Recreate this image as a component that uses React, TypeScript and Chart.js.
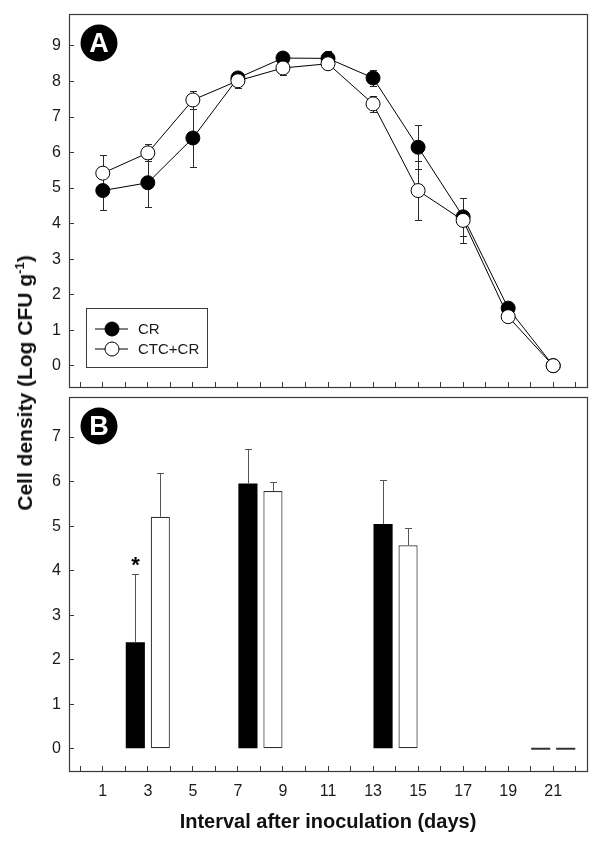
import React, { useEffect, useRef } from "react";
import { Chart, registerables } from "chart.js";

Chart.register(...registerables);

// ---------- data ----------
const seriesLabels = ["CR", "CTC+CR"];

// Panel A (line chart)
const daysA = [1, 3, 5, 7, 9, 11, 13, 15, 17, 19, 21];
const crA = [4.93, 5.15, 6.41, 8.1, 8.66, 8.65, 8.1, 6.15, 4.19, 1.62, 0];
const crAErr = [0.55, 0.68, 0.82, 0.18, 0.1, 0.22, 0.22, 0.62, 0.53, 0.08, 0];
const ctcA = [5.42, 5.99, 7.48, 8.02, 8.38, 8.5, 7.37, 4.93, 4.09, 1.38, 0];
const ctcAErr = [0.5, 0.24, 0.25, 0.2, 0.21, 0.1, 0.23, 0.84, 0.63, 0.08, 0];

// Panel B (bar chart)
const daysB = [3, 8, 14, 21];
const crB = [2.39, 5.96, 5.05, 0];
const crBErr = [1.54, 0.78, 0.98, 0];
const ctcB = [5.21, 5.79, 4.57, 0];
const ctcBErr = [0.99, 0.2, 0.38, 0];
const sigB = [true, false, false, false];

// Axes
const xTicks = [0, 1, 2, 3, 4, 5, 6, 7, 8, 9, 10, 11, 12, 13, 14, 15, 16, 17, 18, 19, 20, 21, 22];
const yTicksA = [0, 1, 2, 3, 4, 5, 6, 7, 8, 9];
const yTicksB = [0, 1, 2, 3, 4, 5, 6, 7];
const xTitle = "Interval after inoculation (days)";

const FONT = "'Liberation Sans', Arial, Helvetica, sans-serif";
const TEXT = "#1a1a1a";
const AXIS = "#3a3a3a";

Chart.defaults.font.family = FONT;
Chart.defaults.color = TEXT;

// ---------- plugins ----------
const framePlugin = {
  id: "frame",
  afterDraw(chart: any) {
    const { ctx, chartArea: a } = chart;
    ctx.save();
    ctx.strokeStyle = AXIS;
    ctx.lineWidth = 1.2;
    ctx.strokeRect(Math.round(a.left) + 0.5, Math.round(a.top) + 0.5, Math.round(a.right - a.left), Math.round(a.bottom - a.top));
    ctx.restore();
  },
};

function badgePlugin(letter: string) {
  return {
    id: "badge" + letter,
    afterDraw(chart: any) {
      const { ctx, chartArea: a } = chart;
      const cx = a.left + 30;
      const cy = a.top + 29;
      ctx.save();
      ctx.fillStyle = "#000";
      ctx.beginPath();
      ctx.arc(cx, cy, 18.5, 0, Math.PI * 2);
      ctx.fill();
      ctx.fillStyle = "#fff";
      ctx.font = "bold 27px " + FONT;
      ctx.textAlign = "center";
      ctx.textBaseline = "middle";
      ctx.fillText(letter, cx, cy + 1.5);
      ctx.restore();
    },
  };
}

const lineErrorPlugin = {
  id: "lineErr",
  beforeDatasetsDraw(chart: any) {
    const { ctx } = chart;
    const yS = chart.scales.y;
    ctx.save();
    ctx.strokeStyle = "#2a2a2a";
    ctx.lineWidth = 1;
    chart.data.datasets.forEach((ds: any, di: number) => {
      const meta = chart.getDatasetMeta(di);
      meta.data.forEach((pt: any, i: number) => {
        const e = ds.errors[i];
        if (!e) return;
        const v = ds.data[i].y;
        const x = Math.round(pt.x) + 0.5;
        const yt = Math.round(yS.getPixelForValue(v + e)) + 0.5;
        const yb = Math.round(yS.getPixelForValue(v - e)) + 0.5;
        ctx.beginPath();
        ctx.moveTo(x, yt);
        ctx.lineTo(x, yb);
        ctx.moveTo(x - 3.5, yt);
        ctx.lineTo(x + 3.5, yt);
        ctx.moveTo(x - 3.5, yb);
        ctx.lineTo(x + 3.5, yb);
        ctx.stroke();
      });
    });
    ctx.restore();
  },
};

const legendPlugin = {
  id: "customLegend",
  afterDraw(chart: any) {
    const { ctx, chartArea: a } = chart;
    const bx = a.left + 17;
    const by = a.bottom - 79;
    const bw = 121;
    const bh = 59;
    ctx.save();
    ctx.fillStyle = "#fff";
    ctx.fillRect(bx, by, bw, bh);
    ctx.strokeStyle = AXIS;
    ctx.lineWidth = 1;
    ctx.strokeRect(Math.round(bx) + 0.5, Math.round(by) + 0.5, bw, bh);
    const items = chart.data.datasets.slice().sort((p: any, q: any) => p.legendIndex - q.legendIndex);
    items.forEach((ds: any, i: number) => {
      const y = by + 21 + i * 20;
      ctx.strokeStyle = "#000";
      ctx.lineWidth = 1;
      ctx.beginPath();
      ctx.moveTo(bx + 9, y);
      ctx.lineTo(bx + 42, y);
      ctx.stroke();
      ctx.beginPath();
      ctx.arc(bx + 26, y, 7, 0, Math.PI * 2);
      ctx.fillStyle = ds.pointBackgroundColor;
      ctx.fill();
      ctx.stroke();
      ctx.fillStyle = TEXT;
      ctx.font = "15px " + FONT;
      ctx.textAlign = "left";
      ctx.textBaseline = "middle";
      ctx.fillText(ds.label, bx + 52, y + 1);
    });
    ctx.restore();
  },
};

const barErrorPlugin = {
  id: "barErr",
  afterDatasetsDraw(chart: any) {
    const { ctx } = chart;
    const yS = chart.scales.y;
    ctx.save();
    chart.data.datasets.forEach((ds: any, di: number) => {
      const meta = chart.getDatasetMeta(di);
      meta.data.forEach((bar: any, i: number) => {
        const e = ds.errors[i];
        const v = ds.data[i].y;
        const x = Math.round(bar.x) + 0.5;
        const yTop = yS.getPixelForValue(v);
        const yErr = Math.round(yS.getPixelForValue(v + e)) + 0.5;
        if (e) {
          ctx.strokeStyle = "#555";
          ctx.lineWidth = 1;
          ctx.beginPath();
          ctx.moveTo(x, yTop);
          ctx.lineTo(x, yErr);
          ctx.moveTo(x - 3.5, yErr);
          ctx.lineTo(x + 3.5, yErr);
          ctx.stroke();
        }
        if (ds.sig && ds.sig[i]) {
          ctx.fillStyle = "#000";
          ctx.font = "bold 22px " + FONT;
          ctx.textAlign = "center";
          ctx.textBaseline = "middle";
          ctx.fillText("*", x, yErr - 9);
        }
      });
    });
    ctx.restore();
  },
};

// ---------- shared scale pieces ----------
function fixedTicks(values: number[]) {
  return (axis: any) => {
    axis.ticks = values.map((v) => ({ value: v }));
  };
}

function fixSize(w: number | null, h: number | null) {
  return (s: any) => {
    if (w !== null) s.width = w;
    if (h !== null) s.height = h;
    s.paddingTop = 0;
    s.paddingBottom = 0;
    s.paddingLeft = 0;
    s.paddingRight = 0;
  };
}

const tickGrid = {
  drawOnChartArea: false,
  drawTicks: true,
  tickLength: -5,
  color: AXIS,
  lineWidth: 1,
  offset: false,
};

export default function App() {
  const refA = useRef<HTMLCanvasElement>(null);
  const refB = useRef<HTMLCanvasElement>(null);

  useEffect(() => {
    const chartA = new Chart(refA.current as HTMLCanvasElement, {
      type: "line",
      data: {
        datasets: [
          {
            label: seriesLabels[0],
            data: daysA.map((d, i) => ({ x: d, y: crA[i] })),
            errors: crAErr,
            legendIndex: 0,
            order: 1,
            borderColor: "#000",
            borderWidth: 1,
            pointRadius: 7,
            pointBorderWidth: 1,
            pointBackgroundColor: "#000",
            pointBorderColor: "#000",
            tension: 0,
          } as any,
          {
            label: seriesLabels[1],
            data: daysA.map((d, i) => ({ x: d, y: ctcA[i] })),
            errors: ctcAErr,
            legendIndex: 1,
            order: 0,
            borderColor: "#000",
            borderWidth: 1,
            pointRadius: 7,
            pointBorderWidth: 1,
            pointBackgroundColor: "#fff",
            pointBorderColor: "#000",
            tension: 0,
          } as any,
        ],
      },
      options: {
        responsive: false,
        animation: false,
        layout: { autoPadding: false, padding: { left: 0, right: 13, top: 14, bottom: 0 } },
        plugins: { legend: { display: false }, tooltip: { enabled: false } },
        scales: {
          x: {
            type: "linear",
            min: -0.5,
            max: 22.5,
            offset: false,
            afterBuildTicks: fixedTicks(xTicks),
            afterFit: fixSize(null, 3),
            ticks: { callback: () => "", autoSkip: false, maxRotation: 0 },
            grid: tickGrid,
            border: { display: false },
          },
          y: {
            type: "linear",
            min: -0.6,
            max: 9.9,
            afterBuildTicks: fixedTicks(yTicksA),
            afterFit: fixSize(69, null),
            ticks: { font: { size: 16 }, color: TEXT, padding: 13 },
            grid: tickGrid,
            border: { display: false },
          },
        },
      } as any,
      plugins: [lineErrorPlugin, framePlugin, legendPlugin, badgePlugin("A")],
    });

    const chartB = new Chart(refB.current as HTMLCanvasElement, {
      type: "bar",
      data: {
        datasets: [
          {
            label: seriesLabels[0],
            data: daysB.map((d, i) => ({ x: d, y: crB[i] })),
            errors: crBErr,
            sig: sigB,
            backgroundColor: (c: any) => (c.raw && c.raw.y === 0 ? "#333" : "#000"),
            borderColor: (c: any) => (c.raw && c.raw.y === 0 ? "#333" : "#000"),
            borderWidth: 0,
            borderSkipped: false,
            minBarLength: 2,
          } as any,
          {
            label: seriesLabels[1],
            data: daysB.map((d, i) => ({ x: d, y: ctcB[i] })),
            errors: ctcBErr,
            backgroundColor: (c: any) => (c.raw && c.raw.y === 0 ? "#333" : "#fff"),
            borderColor: "#333",
            borderWidth: (c: any) => (c.raw && c.raw.y === 0 ? 0 : 1.2),
            borderSkipped: false,
            minBarLength: 2,
          } as any,
        ],
      },
      options: {
        responsive: false,
        animation: false,
        categoryPercentage: 2.22,
        barPercentage: 0.765,
        layout: { autoPadding: false, padding: { left: 0, right: 13, top: 7, bottom: 0 } },
        plugins: { legend: { display: false }, tooltip: { enabled: false } },
        scales: {
          x: {
            type: "linear",
            min: -0.5,
            max: 22.5,
            offset: false,
            afterBuildTicks: fixedTicks(xTicks),
            afterFit: fixSize(null, 73),
            ticks: {
              callback: (v: any) => (Number(v) % 2 === 1 ? String(v) : ""),
              autoSkip: false,
              maxRotation: 0,
              minRotation: 0,
              font: { size: 16 },
              color: TEXT,
              padding: 16,
            },
            grid: tickGrid,
            border: { display: false },
            title: {
              display: true,
              text: xTitle,
              font: { size: 20, weight: "bold" },
              color: "#111",
              padding: { top: 0, bottom: 10 },
            },
          },
          y: {
            type: "linear",
            min: -0.5,
            max: 7.9,
            afterBuildTicks: fixedTicks(yTicksB),
            afterFit: fixSize(69, null),
            ticks: { font: { size: 16 }, color: TEXT, padding: 13 },
            grid: tickGrid,
            border: { display: false },
          },
        },
      } as any,
      plugins: [framePlugin, barErrorPlugin, badgePlugin("B")],
    });

    return () => {
      chartA.destroy();
      chartB.destroy();
    };
  }, []);

  return (
    <div style={{ position: "absolute", left: 0, top: 0, width: 600, height: 844, background: "#fff", fontFamily: FONT }}>
      <canvas ref={refA} width={600} height={390} style={{ position: "absolute", left: 0, top: 0 }} />
      <canvas ref={refB} width={600} height={454} style={{ position: "absolute", left: 0, top: 390 }} />
      <div
        style={{
          position: "absolute",
          left: 25,
          top: 383,
          transform: "translate(-50%, -50%) rotate(-90deg)",
          whiteSpace: "nowrap",
          fontWeight: "bold",
          fontSize: 21,
          lineHeight: "24px",
          color: "#111",
        }}
      >
        Cell density (Log CFU g<sup style={{ fontSize: 13, lineHeight: 0 }}>-1</sup>)
      </div>
    </div>
  );
}
